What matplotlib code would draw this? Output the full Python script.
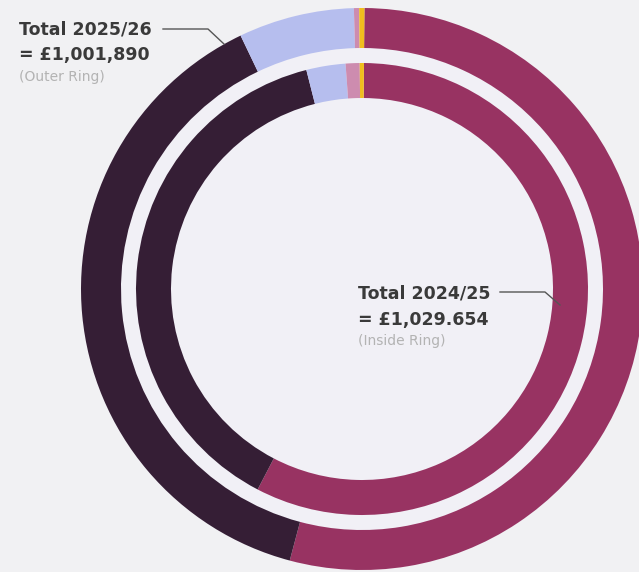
import matplotlib.pyplot as plt
from matplotlib.patches import Circle

# spend split per year, percent of total (clockwise from 12 o'clock)
segments = ['Services', 'Staffing', 'Premises', 'Supplies', 'Other']
share_2025_26 = [54.0, 38.75, 6.65, 0.3, 0.3]   # outer ring
share_2024_25 = [57.5, 38.4, 2.8, 1.0, 0.3]     # inner ring
colours = ['#983362', '#351e35', '#b6beee', '#cd8caf', '#f0be1e']

W, H = 639, 572
fig = plt.figure(figsize=(W / 100, H / 100), dpi=100)
fig.patch.set_facecolor('#f1f1f3')
ax = fig.add_axes([0, 0, 1, 1])
ax.set_facecolor('#f1f1f3')

cx, cy = 362, H - 289
ax.add_patch(Circle((cx, cy), 281, facecolor='#f1f0f6', edgecolor='none', zorder=0))

ax.pie(share_2025_26, colors=colours, radius=281, center=(cx, cy),
       startangle=89.5, counterclock=False, frame=True,
       wedgeprops=dict(width=40, edgecolor='none', linewidth=0))
ax.pie(share_2024_25, colors=colours, radius=226, center=(cx, cy),
       startangle=89.5, counterclock=False, frame=True,
       wedgeprops=dict(width=35, edgecolor='none', linewidth=0))

ax.set_xlim(0, W)
ax.set_ylim(0, H)
ax.set_aspect('equal')
ax.axis('off')

dark = '#3a3a3a'
grey = '#b3b3b3'
font = 'DejaVu Sans'

# outer ring label
ax.text(19, H - 29, 'Total 2025/26', fontsize=12.5, fontweight='bold', color=dark,
        family=font, va='center')
ax.text(19, H - 55, '= £1,001,890', fontsize=12.5, fontweight='bold', color=dark,
        family=font, va='center')
ax.text(19, H - 77, '(Outer Ring)', fontsize=10, color=grey, family=font, va='center')
ax.plot([163, 208, 224], [H - 29, H - 29, H - 44], color='#555555', lw=1)

# inner ring label
ax.text(358, H - 293, 'Total 2024/25', fontsize=12.5, fontweight='bold', color=dark,
        family=font, va='center')
ax.text(358, H - 320, '= £1,029.654', fontsize=12.5, fontweight='bold', color=dark,
        family=font, va='center')
ax.text(358, H - 341, '(Inside Ring)', fontsize=10, color=grey, family=font, va='center')
ax.plot([500, 545, 560], [H - 292, H - 292, H - 305], color='#555555', lw=1)

fig.savefig('out.png', dpi=100, facecolor=fig.get_facecolor())
